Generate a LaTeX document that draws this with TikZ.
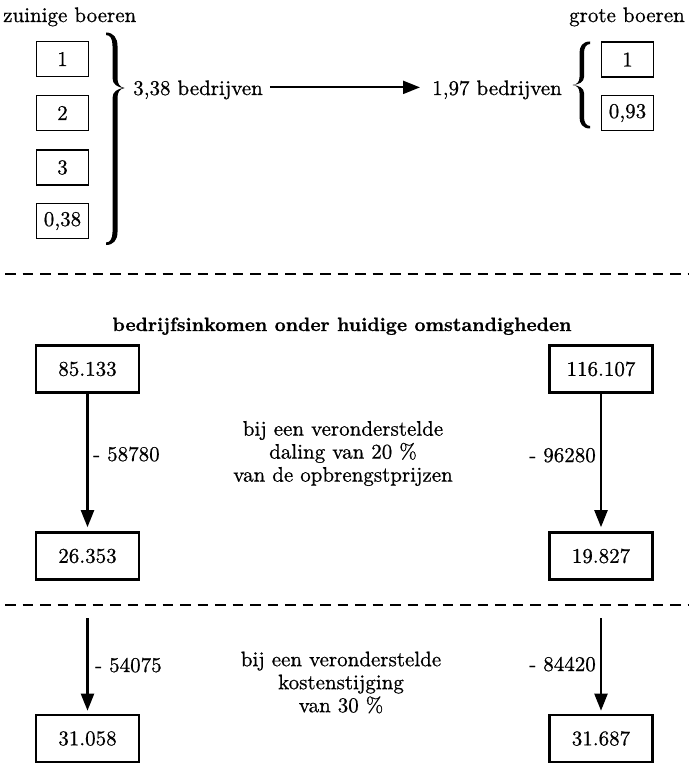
\documentclass[tikz,border=0pt]{standalone}
\usepackage{fontspec}
\setmainfont{lmroman10-regular.otf}[BoldFont=lmroman10-bold.otf, FakeBold=0.7]
\usetikzlibrary{arrows.meta}
\begin{document}
\begin{tikzpicture}[x=1pt,y=-1pt,
  txt/.style={inner sep=0pt, font=\fontsize{21pt}{23pt}\selectfont},
  headtxt/.style={inner sep=0pt, font=\fontsize{19.3pt}{23pt}\selectfont\bfseries},
  smallbox/.style={draw, line width=1.9pt, minimum width=52pt, minimum height=35pt, inner sep=0pt, font=\fontsize{21pt}{23pt}\selectfont},
  bigbox/.style={draw, line width=2.6pt, minimum width=103pt, minimum height=47pt, inner sep=0pt, font=\fontsize{21pt}{23pt}\selectfont},
  arr/.style={line width=2.2pt, -{Triangle[length=17pt,width=13pt]}},
  sepline/.style={line width=2.8pt, dash pattern=on 10.5pt off 7pt}
]
\useasboundingbox (0,0) rectangle (688,765);

% top section
\node[txt, anchor=base west] (zb) at (3,22) {zuinige boeren};
\node[txt, anchor=base east] (gb) at (685,22) {grote boeren};

\node[smallbox] (z1) at (62.5,59) {1};
\node[smallbox] (z2) at (62.5,113) {2};
\node[smallbox] (z3) at (62.5,167.5) {3};
\node[smallbox] (z4) at (62.5,221) {0,38};

\node[smallbox] (g1) at (627.5,59.5) {1};
\node[smallbox] (g2) at (627.5,113) {0,93};

\node[txt, anchor=base west] (t1) at (133,95) {3,38 bedrijven};
\node[txt, anchor=base west] (t2) at (432,95) {1,97 bedrijven};

\draw[arr, shorten <=7pt, shorten >=12pt] ([yshift=2.5pt]t1.east) -- ([yshift=2.5pt]t2.west);

% left brace
\fill (106,32.5) .. controls (113.5,32.5) and (117.5,38) .. (117.5,46) -- (117.5,78)
  .. controls (117.5,84) and (119.5,87) .. (124.5,88)
  .. controls (119.5,89) and (117.5,92) .. (117.5,98) -- (117.5,232)
  .. controls (117.5,240) and (113.5,245) .. (106,245) -- (106,242.5)
  .. controls (110.5,242.5) and (112.5,238) .. (112.5,232) -- (112.5,98)
  .. controls (112.5,92) and (117,88.5) .. (124.5,88)
  .. controls (117,87.5) and (112.5,84) .. (112.5,78) -- (112.5,46)
  .. controls (112.5,39) and (110.5,35) .. (106,35) -- cycle;

% right brace
\fill (590,41.5) .. controls (582.5,41.5) and (579.5,46.5) .. (579.5,53) -- (579.5,77)
  .. controls (579.5,82) and (577,84.5) .. (572.5,85)
  .. controls (577,85.5) and (579.5,88) .. (579.5,93) -- (579.5,117)
  .. controls (579.5,123.5) and (582.5,128.5) .. (590,128.5) -- (590,126)
  .. controls (586,126) and (584,122) .. (584,117) -- (584,93)
  .. controls (584,88) and (579,85.5) .. (572.5,85)
  .. controls (579,84.5) and (584,82) .. (584,77) -- (584,53)
  .. controls (584,48) and (586,44) .. (590,44) -- cycle;

% separators
\draw[sepline] (5,274) -- (688,274);
\draw[sepline] (5,605) -- (688,605);

% middle section
\node[headtxt, anchor=base] (head) at (342,331) {bedrijfsinkomen onder huidige omstandigheden};

\node[bigbox] (a1) at (87.5,369) {85.133};
\node[bigbox] (b1) at (601,369) {116.107};
\node[bigbox] (a2) at (87.5,556) {26.353};
\node[bigbox] (b2) at (601,556) {19.827};

\draw[arr, shorten >=4pt] (a1.south) -- (a2.north);
\draw[arr, shorten >=4pt] (b1.south) -- (b2.north);

\node[txt, anchor=base west] (la1) at (93,461) {- 58780};
\node[txt, anchor=base east] (lb1) at (596,462) {- 96280};

\node[txt, align=center] (m1) at (343,453.5) {bij een veronderstelde\\daling van 20 \%\\van de opbrengstprijzen};

% bottom section
\coordinate (sa) at (87.5,618);
\coordinate (sb) at (601,618);
\node[bigbox] (a3) at (87.5,738.5) {31.058};
\node[bigbox] (b3) at (601,738.5) {31.687};

\draw[arr, shorten >=3pt] (sa) -- (a3.north);
\draw[arr, shorten >=3pt] (sb) -- (b3.north);

\node[txt, anchor=base west] (la2) at (95,672) {- 54075};
\node[txt, anchor=base east] (lb2) at (596,671) {- 84420};

\node[txt, align=center] (m2) at (341,682.5) {bij een veronderstelde\\kostenstijging\\van 30 \%};
\end{tikzpicture}
\end{document}
